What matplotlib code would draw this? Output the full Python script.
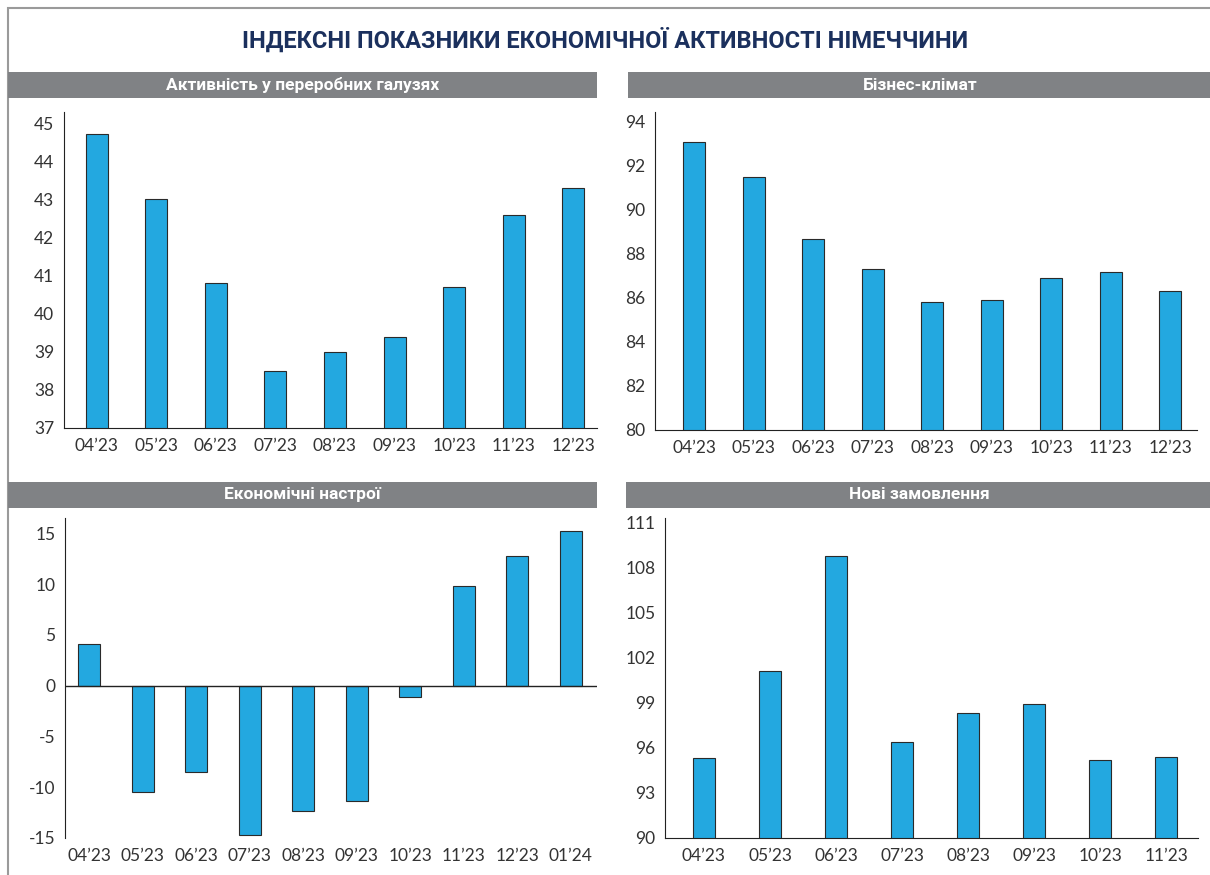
import matplotlib
matplotlib.use("Agg")
import matplotlib.pyplot as plt
from matplotlib.patches import Rectangle

# дані
months_a = ["04’23", "05’23", "06’23", "07’23", "08’23", "09’23", "10’23", "11’23", "12’23"]
pmi_manuf = [44.7, 43.0, 40.8, 38.5, 39.0, 39.4, 40.7, 42.6, 43.3]

months_b = ["04’23", "05’23", "06’23", "07’23", "08’23", "09’23", "10’23", "11’23", "12’23"]
ifo_climate = [93.1, 91.5, 88.7, 87.3, 85.8, 85.9, 86.9, 87.2, 86.3]

months_c = ["04’23", "05’23", "06’23", "07’23", "08’23", "09’23", "10’23", "11’23", "12’23", "01’24"]
zew_sentiment = [4.1, -10.5, -8.5, -14.7, -12.3, -11.4, -1.1, 9.8, 12.8, 15.2]

months_d = ["04’23", "05’23", "06’23", "07’23", "08’23", "09’23", "10’23", "11’23"]
new_orders = [95.3, 101.1, 108.8, 96.4, 98.3, 98.9, 95.2, 95.4]

BAR = "#23a8e0"
HEAD = "#808285"
NAVY = "#1b305d"
TXT = "#333333"
W, H = 1210, 875

plt.rcParams["font.family"] = ["Lato", "DejaVu Sans"]
plt.rcParams["axes.unicode_minus"] = False

fig = plt.figure(figsize=(W / 100, H / 100), dpi=100)

def px_box(x0, y0, x1, y1):
    # перевести пікселі в частки фігури
    return [x0 / W, 1 - y1 / H, (x1 - x0) / W, (y1 - y0) / H]

# рамка
b = px_box(8, 8, 1215, 880)
fig.add_artist(Rectangle((b[0], b[1]), b[2], b[3], transform=fig.transFigure,
                         fill=False, edgecolor="#9a9a9a", lw=1.5))

fig.text(0.5, 1 - 40 / H, "ІНДЕКСНІ ПОКАЗНИКИ ЕКОНОМІЧНОЇ АКТИВНОСТІ НІМЕЧЧИНИ",
         ha="center", va="center", color=NAVY, fontsize=17, fontweight="bold",
         family=["Roboto", "DejaVu Sans"])

def header(x0, y0, x1, y1, text):
    bb = px_box(x0, y0, x1, y1)
    fig.add_artist(Rectangle((bb[0], bb[1]), bb[2], bb[3], transform=fig.transFigure,
                             facecolor=HEAD, edgecolor="none"))
    fig.text(bb[0] + bb[2] / 2, bb[1] + bb[3] / 2, text, ha="center", va="center",
             color="white", fontsize=12.5, fontweight="bold",
             family=["Roboto", "DejaVu Sans"])

header(8, 72, 597, 98, "Активність у переробних галузях")
header(628, 72, 1212, 98, "Бізнес-клімат")
header(8, 482, 597, 508, "Економічні настрої")
header(626, 482, 1212, 508, "Нові замовлення")

def panel(box, labels, values, width, xlim, ylim, yticks, zero_line=False):
    ax = fig.add_axes(px_box(*box))
    x = range(len(labels))
    ax.bar(x, values, width=width, color=BAR, edgecolor="#2a2a2a", linewidth=0.8, zorder=2)
    ax.set_xlim(*xlim)
    ax.set_ylim(*ylim)
    ax.set_xticks(list(x))
    ax.set_xticklabels(labels)
    ax.set_yticks(yticks)
    ax.tick_params(length=0, labelsize=12.5, colors=TXT, pad=7)
    for s in ["top", "right"]:
        ax.spines[s].set_visible(False)
    ax.spines["left"].set_color("#222222")
    ax.spines["bottom"].set_color("#222222")
    if zero_line:
        ax.spines["bottom"].set_visible(False)
        ax.axhline(0, color="#222222", lw=1, zorder=3)
    return ax

panel((64, 112, 597, 428), months_a, pmi_manuf, 0.37, (-0.55, 8.4), (37, 45.29),
      range(37, 46))
panel((655, 112, 1197, 430), months_b, ifo_climate, 0.37, (-0.66, 8.45), (80, 94.45),
      range(80, 95, 2))
panel((65, 518, 597, 838), months_c, zew_sentiment, 0.41, (-0.45, 9.49), (-15, 16.5),
      range(-15, 16, 5), zero_line=True)
panel((665, 518, 1198, 838), months_d, new_orders, 0.33, (-0.59, 7.48), (90, 111.33),
      range(90, 112, 3))

fig.savefig("out.png", dpi=100)
